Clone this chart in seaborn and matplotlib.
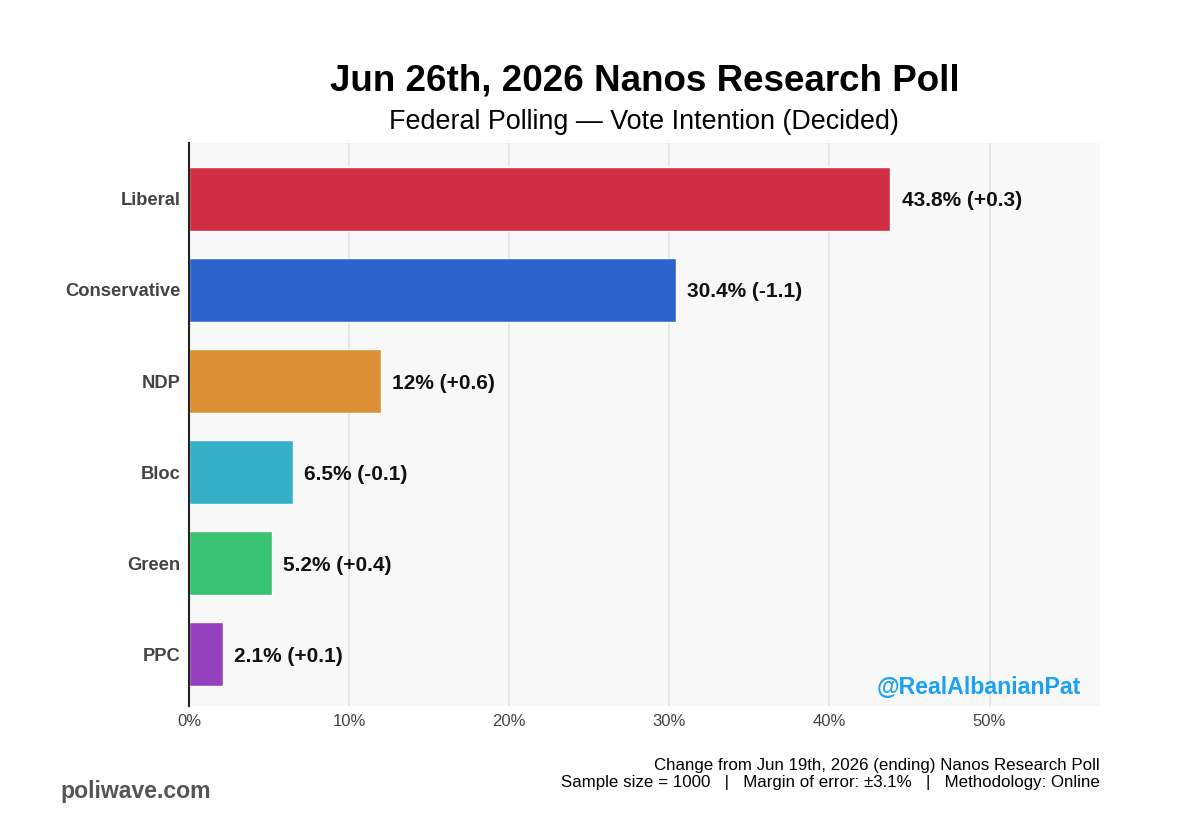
import matplotlib
matplotlib.use("Agg")
import matplotlib.pyplot as plt
import seaborn as sns
import pandas as pd

# Poll data
parties = ["Liberal", "Conservative", "NDP", "Bloc", "Green", "PPC"]
shares = [43.8, 30.4, 12.0, 6.5, 5.2, 2.1]
changes = ["+0.3", "-1.1", "+0.6", "-0.1", "+0.4", "+0.1"]
share_text = ["43.8%", "30.4%", "12%", "6.5%", "5.2%", "2.1%"]
colors = ["#D02E43", "#2D64CC", "#DC8F35", "#34AFC7", "#3AC273", "#9540BF"]
xticks = [0, 10, 20, 30, 40, 50]

df = pd.DataFrame({"party": parties, "share": shares})

sns.set_style("white")
plt.rcParams["font.family"] = ["Liberation Sans", "DejaVu Sans"]

fig = plt.figure(figsize=(12, 8.4), dpi=100)
ax = fig.add_axes([0.1575, 0.1595, 0.7592, 0.6703])
ax.set_facecolor("#F8F8F8")

sns.barplot(data=df, x="share", y="party", hue="party", palette=colors,
            order=parties, width=0.7, saturation=1, legend=False, ax=ax,
            zorder=3)

# Value labels
for i, (s, t, c) in enumerate(zip(shares, share_text, changes)):
    ax.text(s + 0.7, i, f"{t} ({c})", va="center_baseline", ha="left",
            fontsize=15, fontweight="bold", color="#111111", zorder=4)

ax.set_xlim(0, 56.9)
ax.set_ylim(5.57, -0.615)
ax.set_xticks(xticks)
ax.set_xticklabels([f"{x}%" for x in xticks], fontsize=12, color="#444444")
ax.tick_params(axis="y", labelsize=13.2, labelcolor="#444444", length=0, pad=6)
ax.tick_params(axis="x", length=0, pad=6)
for lbl in ax.get_yticklabels():
    lbl.set_fontweight("bold")
ax.set_xlabel("")
ax.set_ylabel("")

ax.grid(axis="x", color="#E2E2E2", linewidth=1.2, zorder=0)
ax.grid(axis="y", visible=False)
for side in ["top", "right", "bottom"]:
    ax.spines[side].set_visible(False)
ax.spines["left"].set_color("#222222")
ax.spines["left"].set_linewidth(1.5)
ax.spines["left"].set_zorder(5)

# Watermark
ax.text(0.979, 0.012, "@RealAlbanianPat", transform=ax.transAxes,
        ha="right", va="bottom", fontsize=16.7, fontweight="bold",
        color="#1DA1F2", zorder=6)

# Titles
fig.text(0.537, 0.903, "Jun 26th, 2026 Nanos Research Poll", ha="center",
         va="center", fontsize=26.5, fontweight="bold", color="#000000")
fig.text(0.537, 0.855, "Federal Polling \u2014 Vote Intention (Decided)",
         ha="center", va="center", fontsize=19.4, color="#000000")

# Footer
fig.text(0.9167, 0.089, "Change from Jun 19th, 2026 (ending) Nanos Research Poll",
         ha="right", va="center", fontsize=12.2, color="#000000")
fig.text(0.9167, 0.069,
         "Sample size = 1000   |   Margin of error: \u00b13.1%   |   Methodology: Online",
         ha="right", va="center", fontsize=12.2, color="#000000")
fig.text(0.05, 0.058, "poliwave.com", ha="left", va="center", fontsize=16.6,
         fontweight="bold", color="#555555")

fig.savefig("out.png", dpi=100, facecolor="white")
